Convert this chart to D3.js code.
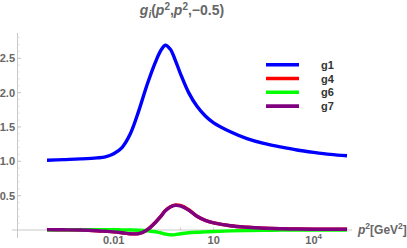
<!DOCTYPE html>
<html><head><meta charset="utf-8">
<script src="https://cdn.jsdelivr.net/npm/d3@7"></script>
<style>
html,body{margin:0;padding:0;background:#fff;}
svg{display:block;font-family:"Liberation Sans",Arial,sans-serif;}
</style></head>
<body>
<svg id="c" width="407" height="248"></svg>
<script>
// log10(p^2) grid
const logP2 = [-4,-3.5,-3,-2.5,-2.25,-2,-1.75,-1.5,-1.25,-1,-0.75,-0.6,-0.45,-0.3,-0.15,0,0.25,0.5,0.75,1,1.5,2,2.5,3,3.5,4,4.5,5];
const g1 = [1.015,1.025,1.035,1.05,1.065,1.11,1.20,1.40,1.73,2.11,2.44,2.60,2.69,2.63,2.47,2.28,2.0,1.80,1.66,1.56,1.43,1.33,1.26,1.21,1.165,1.13,1.10,1.08];
const g4 = [0.005,0.003,0,-0.01,-0.018,-0.027,-0.04,-0.055,-0.052,0.0,0.11,0.19,0.282,0.34,0.365,0.357,0.295,0.2,0.14,0.105,0.062,0.04,0.026,0.018,0.014,0.012,0.011,0.01];
const g6 = [0,0.002,0.004,0.005,0.005,0.004,0.002,0,-0.003,-0.01,-0.025,-0.04,-0.058,-0.07,-0.068,-0.055,-0.04,-0.032,-0.027,-0.022,-0.013,-0.007,-0.004,-0.002,-0.001,0,0,0];
const g7 = [0.005,0.003,0,-0.01,-0.018,-0.027,-0.04,-0.055,-0.052,0.0,0.11,0.19,0.28,0.335,0.358,0.35,0.29,0.2,0.14,0.105,0.062,0.04,0.026,0.018,0.014,0.012,0.011,0.01];
const seriesNames = ["g1","g4","g6","g7"];
const seriesColors = ["#0000ff","#ff0000","#00ff00","#800080"];
const yTicks = [0.5,1.0,1.5,2.0,2.5];
const xTickLabels = [{v:0.01,t:"0.01"},{v:10,t:"10"},{v:1e4,t:"10",sup:"4"}];

const p2 = logP2.map(e => Math.pow(10, e));
const series = [g1,g4,g6,g7];

const svg = d3.select("#c");
const x = d3.scaleLog().domain([1e-4,1e5]).range([47,347]);
const y = d3.scaleLinear().domain([0,2.5]).range([230,58.25]);

const axisColor = "#c8c8c8";
const textColor = "#666";

// axes
svg.append("line").attr("x1",12).attr("x2",352).attr("y1",y(0)).attr("y2",y(0)).attr("stroke",axisColor).attr("stroke-width",1);
svg.append("line").attr("x1",17.5).attr("x2",17.5).attr("y1",33).attr("y2",238).attr("stroke",axisColor).attr("stroke-width",1);

// y ticks
const yMinor = d3.range(0.1,2.85,0.1);
svg.selectAll(".ym").data(yMinor).enter().append("line")
  .attr("x1",17.5).attr("x2",19.5).attr("y1",d=>y(d)).attr("y2",d=>y(d)).attr("stroke","#ddd");
svg.selectAll(".yt").data(yTicks).enter().append("line")
  .attr("x1",17.5).attr("x2",21).attr("y1",d=>y(d)).attr("y2",d=>y(d)).attr("stroke",axisColor);
svg.selectAll(".yl").data(yTicks).enter().append("text")
  .attr("x",15).attr("y",d=>y(d)+4).attr("text-anchor","end").attr("font-weight","bold")
  .attr("font-size","11px").attr("fill",textColor).text(d=>d.toFixed(1));

// x ticks
const xMajor = d3.range(-4,6).map(e=>Math.pow(10,e));
svg.selectAll(".xt").data(xMajor).enter().append("line")
  .attr("x1",d=>x(d)).attr("x2",d=>x(d)).attr("y1",y(0)).attr("y2",y(0)-2.5).attr("stroke",axisColor);
const xl = svg.selectAll(".xl").data(xTickLabels).enter().append("text")
  .attr("x",d=>x(d.v)).attr("y",243.5).attr("text-anchor","middle").attr("font-weight","bold")
  .attr("font-size","11px").attr("fill",textColor);
xl.append("tspan").text(d=>d.t);
xl.filter(d=>d.sup).append("tspan").attr("dy",-4.5).attr("font-size","8px").text(d=>d.sup);

// axis label
const al = svg.append("text").attr("x",358).attr("y",234).attr("font-size","12px").attr("font-weight","bold").attr("fill",textColor);
al.append("tspan").attr("font-style","italic").text("p");
al.append("tspan").attr("dy",-5).attr("font-size","8.5px").text("2");
al.append("tspan").attr("dy",5).text("[GeV");
al.append("tspan").attr("dy",-5).attr("font-size","8.5px").text("2");
al.append("tspan").attr("dy",5).text("]");

// title
const ti = svg.append("text").attr("x",182).attr("y",15).attr("text-anchor","middle").attr("font-size","14px").attr("font-weight","bold").attr("fill",textColor);
ti.append("tspan").attr("font-style","italic").text("g");
ti.append("tspan").attr("font-style","italic").attr("font-size","10px").attr("dy",3).text("i");
ti.append("tspan").attr("dy",-3).text("(");
ti.append("tspan").attr("font-style","italic").text("p");
ti.append("tspan").attr("dy",-5.5).attr("font-size","10px").text("2");
ti.append("tspan").attr("dy",5.5).text(",");
ti.append("tspan").attr("font-style","italic").text("p");
ti.append("tspan").attr("dy",-5.5).attr("font-size","10px").text("2");
ti.append("tspan").attr("dy",5.5).text(",\u22120.5)");

// lines
const line = d3.line().x((d,i)=>x(p2[i])).y(d=>y(d)).curve(d3.curveCatmullRom.alpha(0.5));
series.forEach((s,k)=>{
  svg.append("path").attr("d",line(s)).attr("fill","none")
    .attr("stroke",seriesColors[k]).attr("stroke-width",3.4)
    .attr("stroke-linejoin","round").attr("stroke-linecap","butt");
});

// legend
const lg = svg.append("g");
seriesNames.forEach((n,k)=>{
  const ly = 64.7 + k*13.8;
  lg.append("line").attr("x1",266).attr("x2",299).attr("y1",ly).attr("y2",ly)
    .attr("stroke",seriesColors[k]).attr("stroke-width",3.6);
  lg.append("text").attr("x",321).attr("y",ly+4).attr("font-size","11px").attr("font-weight","bold").attr("fill","#333").text(n);
});
</script>
</body></html>
